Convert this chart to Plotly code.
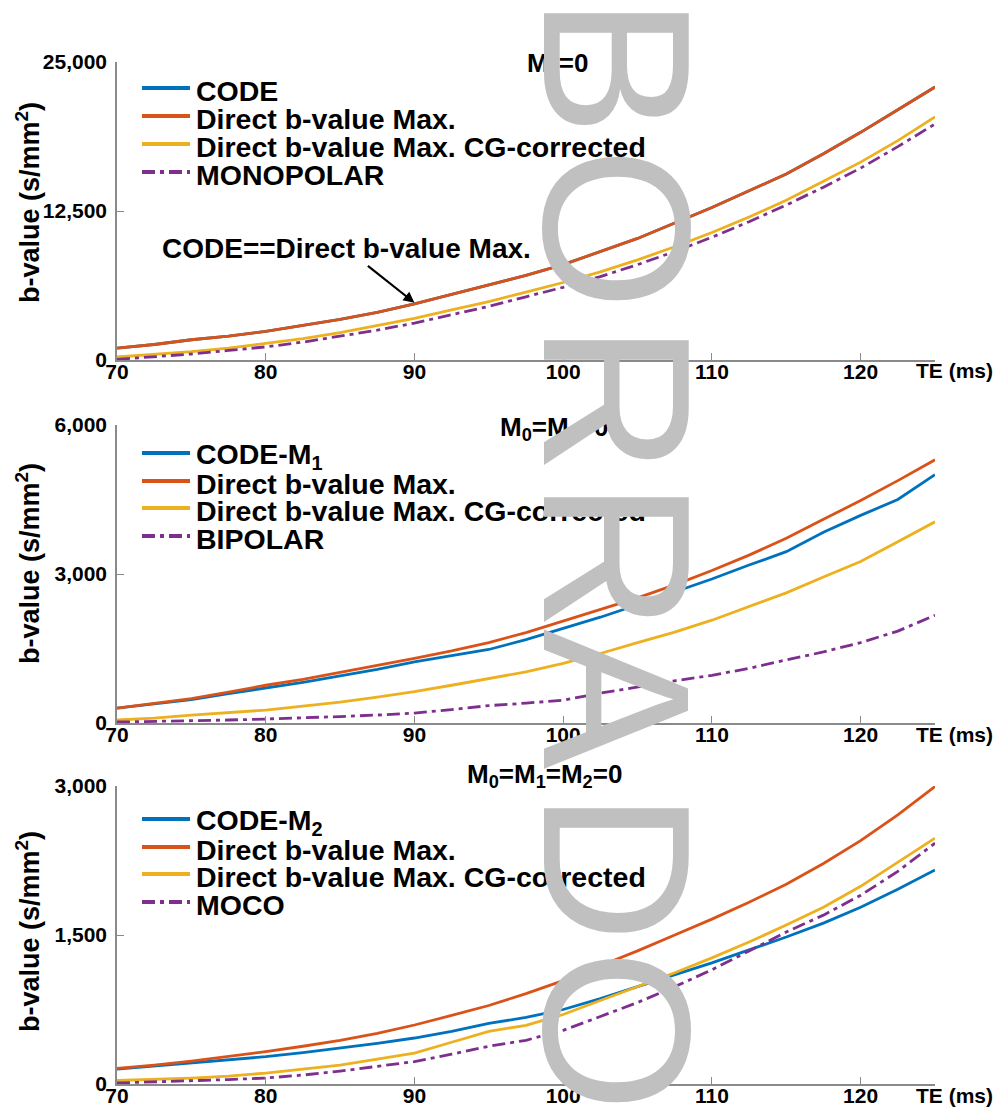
import plotly.graph_objects as go

# Target picture size and page offset (the page body adds an 8px margin)
IMG_W, IMG_H = 1001, 1112
OFF = 8
W, H = IMG_W - OFF, IMG_H - OFF
FONT = "Arial, Liberation Sans, sans-serif"

BLUE, RED, YELLOW, PURPLE = "#0072BD", "#D95319", "#EDB120", "#7E2F8E"

te = [70, 72.5, 75, 77.5, 80, 82.5, 85, 87.5, 90, 92.5, 95, 97.5, 100,
      102.5, 105, 107.5, 110, 112.5, 115, 117.5, 120, 122.5, 125]

# ---- Panel 1: M0 = 0 ----
p1_code = [1000, 1300, 1700, 2000, 2400, 2900, 3400, 4000, 4700, 5500, 6300, 7100, 8000,
           9100, 10200, 11500, 12800, 14200, 15600, 17300, 19100, 21000, 22900]
p1_direct = [1000, 1300, 1700, 2000, 2400, 2900, 3400, 4000, 4700, 5500, 6300, 7100, 8000,
             9100, 10200, 11500, 12800, 14200, 15600, 17300, 19100, 21000, 22900]
p1_cg = [250, 450, 700, 1000, 1400, 1800, 2300, 2900, 3500, 4200, 4900, 5700, 6500,
         7400, 8400, 9500, 10700, 12000, 13400, 15000, 16600, 18400, 20400]
p1_mono = [50, 250, 500, 800, 1100, 1500, 2000, 2500, 3100, 3800, 4500, 5300, 6100,
           7000, 8000, 9100, 10300, 11600, 13000, 14500, 16100, 17900, 19800]

# ---- Panel 2: M0 = M1 = 0 ----
p2_code = [300, 380, 470, 590, 700, 820, 950, 1080, 1230, 1360, 1480, 1680, 1900,
           2130, 2380, 2640, 2900, 3180, 3450, 3840, 4180, 4500, 5000]
p2_direct = [300, 390, 490, 620, 760, 880, 1020, 1150, 1300, 1450, 1620, 1820, 2050,
             2280, 2520, 2780, 3070, 3380, 3720, 4100, 4480, 4880, 5300]
p2_cg = [60, 100, 160, 210, 260, 340, 420, 520, 630, 760, 900, 1030, 1200,
         1400, 1620, 1830, 2070, 2340, 2620, 2940, 3250, 3650, 4050]
p2_bipolar = [20, 30, 40, 60, 80, 100, 130, 160, 200, 270, 350, 400, 460,
              600, 730, 850, 960, 1100, 1270, 1430, 1620, 1850, 2170]

# ---- Panel 3: M0 = M1 = M2 = 0 ----
p3_code = [150, 180, 210, 240, 275, 315, 360, 410, 463, 530, 610, 670, 750,
           860, 980, 1100, 1220, 1350, 1480, 1620, 1780, 1960, 2155]
p3_direct = [158, 190, 230, 275, 325, 380, 440, 510, 594, 690, 790, 910, 1040,
             1190, 1340, 1500, 1660, 1830, 2010, 2220, 2450, 2710, 2995]
p3_cg = [35, 45, 60, 80, 110, 150, 190, 250, 310, 420, 530, 590, 700,
         840, 980, 1120, 1270, 1430, 1600, 1780, 1990, 2230, 2475]
p3_moco = [10, 20, 30, 45, 60, 90, 130, 175, 225, 300, 380, 440, 540,
           680, 820, 980, 1150, 1340, 1530, 1700, 1900, 2140, 2425]

x_ticks = [70, 80, 90, 100, 110, 120]
y_ticks = [[0, 12500, 25000], [0, 3000, 6000], [0, 1500, 3000]]
y_max = [25000, 6000, 3000]

titles = ["M<sub>0</sub>=0", "M<sub>0</sub>=M<sub>1</sub>=0",
          "M<sub>0</sub>=M<sub>1</sub>=M<sub>2</sub>=0"]
legend_names = [
    ["CODE", "Direct b-value Max.", "Direct b-value Max. CG-corrected", "MONOPOLAR"],
    ["CODE-M<sub>1</sub>", "Direct b-value Max.", "Direct b-value Max. CG-corrected", "BIPOLAR"],
    ["CODE-M<sub>2</sub>", "Direct b-value Max.", "Direct b-value Max. CG-corrected", "MOCO"],
]
series = [
    [p1_code, p1_direct, p1_cg, p1_mono],
    [p2_code, p2_direct, p2_cg, p2_bipolar],
    [p3_code, p3_direct, p3_cg, p3_moco],
]
colors = [BLUE, RED, YELLOW, PURPLE]
DASHDOT = "13px,5px,4px,5px"
dashes = ["solid", "solid", "solid", DASHDOT]

watermark_letters = ["B", "O", "R", "R", "A", "D", "O"]

# layout geometry (pixels in the target picture)
plot_left, plot_right = 117, 935
panel_top = [62, 425, 786]
panel_bot = [360, 723, 1084]
legend_rows = [[88, 116, 144, 172], [453, 481, 508, 536], [819, 847, 874, 902]]
title_pos = [(525, 64), (498, 428), (465, 775)]
xlabel_y = [371, 734, 1095]
ylabel_y = [203, 564, 932]
wm_x = 617
wm_y = [66, 228, 399, 556, 699, 867, 1030]


def px(p):
    return (p - OFF) / W


def py(p):
    return 1 - (p - OFF) / H


fig = go.Figure()
annotations = []
shapes = []

for i in range(3):
    xa = "x" if i == 0 else f"x{i+1}"
    ya = "y" if i == 0 else f"y{i+1}"
    for k in range(4):
        fig.add_trace(go.Scatter(
            x=te, y=series[i][k], mode="lines", name=legend_names[i][k],
            line=dict(color=colors[k], width=2.8, dash=dashes[k]),
            xaxis=xa, yaxis=ya, showlegend=False))

    ax_common = dict(showline=True, linecolor="#8a8a8a", linewidth=1.5,
                     ticks="inside", ticklen=7, tickwidth=1.2, tickcolor="#8a8a8a",
                     showgrid=False, zeroline=False, automargin=False,
                     tickfont=dict(family=FONT, size=21, color="black", weight="bold"))
    xkey = "xaxis" if i == 0 else f"xaxis{i+1}"
    ykey = "yaxis" if i == 0 else f"yaxis{i+1}"
    fig.update_layout({
        xkey: dict(ax_common, domain=[px(plot_left), px(plot_right)], range=[70, 125],
                   tickvals=x_ticks, anchor=ya, ticklabelstandoff=-8),
        ykey: dict(ax_common, domain=[py(panel_bot[i]), py(panel_top[i])],
                   range=[0, y_max[i]], tickvals=y_ticks[i], tickformat=",",
                   ticklabelstandoff=4, anchor=xa),
    })

    # legend (manual, compact like the original)
    for k in range(4):
        ly = legend_rows[i][k]
        shapes.append(dict(type="line", xref="paper", yref="paper",
                           x0=px(142), x1=px(190), y0=py(ly), y1=py(ly),
                           line=dict(color=colors[k], width=4, dash=dashes[k])))
        annotations.append(dict(text=legend_names[i][k], xref="paper", yref="paper",
                                x=px(194), y=py(ly + 3), xanchor="left", yanchor="middle",
                                showarrow=False,
                                font=dict(family=FONT, size=28.5, color="black", weight="bold")))
    # panel title
    annotations.append(dict(text=titles[i], xref="paper", yref="paper",
                            x=px(title_pos[i][0]), y=py(title_pos[i][1]),
                            xanchor="left", yanchor="middle", showarrow=False,
                            font=dict(family=FONT, size=26, color="black", weight="bold")))
    # x-axis label
    annotations.append(dict(text="TE (ms)", xref="paper", yref="paper",
                            x=px(954), y=py(xlabel_y[i]), xanchor="center", yanchor="middle",
                            showarrow=False,
                            font=dict(family=FONT, size=21, color="black", weight="bold")))
    # y-axis label
    annotations.append(dict(text="b-value (s/mm<sup>2</sup>)", xref="paper", yref="paper",
                            x=px(28), y=py(ylabel_y[i]), xanchor="center", yanchor="middle",
                            textangle=-90, showarrow=False,
                            font=dict(family=FONT, size=27, color="black", weight="bold")))

# arrow annotation in top panel
annotations.append(dict(text="CODE==Direct b-value Max.", xref="x", yref="y",
                        x=90, y=4800, ax=-68, ay=-54, showarrow=True,
                        arrowhead=2, arrowsize=1, arrowwidth=2.2, arrowcolor="black",
                        font=dict(family=FONT, size=28, color="black", weight="bold")))

# watermark "BORRADO" (vertical, on top of everything)
for letter, ly in zip(watermark_letters, wm_y):
    annotations.append(dict(text=letter, xref="paper", yref="paper",
                            x=px(wm_x), y=py(ly), xanchor="center", yanchor="middle",
                            textangle=90, showarrow=False,
                            font=dict(family=FONT, size=210, color="#c0c0c0")))

fig.update_layout(width=W, height=H, margin=dict(l=0, r=0, t=0, b=0),
                  paper_bgcolor="white", plot_bgcolor="white",
                  showlegend=False, annotations=annotations, shapes=shapes)

fig.write_html("out.html")
